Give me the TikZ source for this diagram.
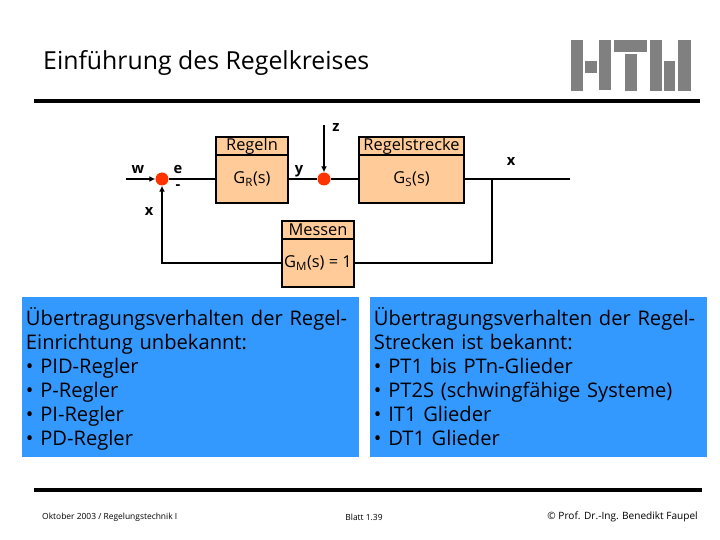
\documentclass[tikz,border=0pt]{standalone}
\usepackage{fontspec}
\setmainfont{Open Sans}
\usepackage{tikz}
\usetikzlibrary{arrows.meta}
\definecolor{BoxOrange}{HTML}{FFCC99}
\definecolor{PointRed}{HTML}{FF3300}
\definecolor{PanelBlue}{HTML}{3399FF}
\definecolor{LogoGray}{HTML}{808080}
\tikzset{
  blockhead/.style={draw, line width=1.2pt, fill=BoxOrange, minimum height=0.54cm, inner sep=0pt, font=\fontsize{14}{16}\selectfont},
  blockbody/.style={draw, line width=1.2pt, fill=BoxOrange, minimum height=1.44cm, inner sep=0pt, font=\fontsize{14}{16}\selectfont},
  sumpoint/.style={circle, fill=PointRed, minimum size=0.39cm, inner sep=0pt},
  signal/.style={font=\bfseries\fontsize{12.5}{14}\selectfont, inner sep=0pt},
  panel/.style={fill=PanelBlue, minimum width=10.11cm, minimum height=4.8cm, text width=9.87cm, align=left, inner sep=0pt, font=\fontsize{17.2}{20.5}\selectfont},
  footer/.style={font=\fontsize{7.2}{8}\selectfont, inner sep=0pt},
  wire/.style={line width=1.3pt},
  arrowwire/.style={wire, -{Latex[length=5pt,width=5pt]}},
  rulebar/.style={draw, line width=2.6pt}
}
\begin{document}
\begin{tikzpicture}[x=0.03cm, y=-0.03cm]
  \useasboundingbox (0,0) rectangle (720,540);

  \node[anchor=west, inner sep=0pt, font=\fontsize{21.2}{24}\selectfont] (title) at (43,63) {Einführung des Regelkreises};
  \draw[rulebar] (34,101) -- (700,101);
  \draw[rulebar] (34,490) -- (702,490);

  % logo
  \fill[LogoGray] (571,40) rectangle (583,91);
  \fill[LogoGray] (585,61) rectangle (597,73);
  \fill[LogoGray] (599,40) rectangle (611,90);
  \fill[LogoGray] (614,40) rectangle (647,52);
  \fill[LogoGray] (625,54) rectangle (637,91);
  \fill[LogoGray] (650,40) rectangle (662,91);
  \fill[LogoGray] (664,61) rectangle (675,91);
  \fill[LogoGray] (678,40) rectangle (691,91);

  % blocks
  \node[blockhead, minimum width=2.16cm] (RegelnHead) at (252,146) {Regeln};
  \node[blockbody, minimum width=2.16cm] (RegelnBody) at (252,179) {G\textsubscript{R}(s)};
  \node[blockhead, minimum width=3.15cm] (StreckeHead) at (411.5,146) {Regelstrecke};
  \node[blockbody, minimum width=3.15cm] (StreckeBody) at (411.5,179) {G\textsubscript{S}(s)};
  \node[blockhead, minimum width=2.16cm] (MessenHead) at (318,230) {Messen};
  \node[blockbody, minimum width=2.16cm] (MessenBody) at (318,263) {G\textsubscript{M}(s) = 1};

  \node[sumpoint] (SumW) at (162,179) {};
  \node[sumpoint] (SumZ) at (324,179) {};

  \coordinate (InW) at (126,179);
  \coordinate (InZ) at (324,125);
  \coordinate (OutX) at (570,179);
  \coordinate (Branch) at (492,179);

  \draw[arrowwire] (InW) -- (SumW);
  \draw[wire] (SumW) -- (RegelnBody);
  \draw[wire] (RegelnBody) -- (SumZ);
  \draw[arrowwire] (InZ) -- (SumZ);
  \draw[wire] (SumZ) -- (StreckeBody);
  \draw[wire] (StreckeBody) -- (OutX);
  \draw[wire] (Branch) |- (MessenBody);
  \draw[arrowwire] (MessenBody) -| (SumW);

  \node[signal] (LabelW) at (138,170) {w};
  \node[signal] (LabelE) at (178,170) {e};
  \node[signal] (LabelMinus) at (178,187) {-};
  \node[signal] (LabelXa) at (149,212) {x};
  \node[signal] (LabelY) at (299,171) {y};
  \node[signal] (LabelZ) at (336,128) {z};
  \node[signal] (LabelXb) at (511,162) {x};

  % panels
  \node[panel] (PanelLeft) at (190.5,377) {\rule{0pt}{20pt}Übertragungsverhalten der Regel-\\Einrichtung unbekannt:\\• PID-Regler\\• P-Regler\\• PI-Regler\\• PD-Regler\strut};
  \node[panel] (PanelRight) at (538.5,377) {\rule{0pt}{20pt}Übertragungsverhalten der Regel-\\Strecken ist bekannt:\\• PT1 bis PTn-Glieder\\• PT2S (schwingfähige Systeme)\\• IT1 Glieder\\• DT1 Glieder\strut};

  \node[footer, anchor=west] (FootLeft) at (42,517) {Oktober 2003 / Regelungstechnik I};
  \node[footer] (FootMid) at (364,517) {Blatt 1.39};
  \node[footer, anchor=east, font=\fontsize{8.6}{10}\selectfont] (FootRight) at (698,517) {© Prof. Dr.-Ing. Benedikt Faupel};
\end{tikzpicture}
\end{document}
